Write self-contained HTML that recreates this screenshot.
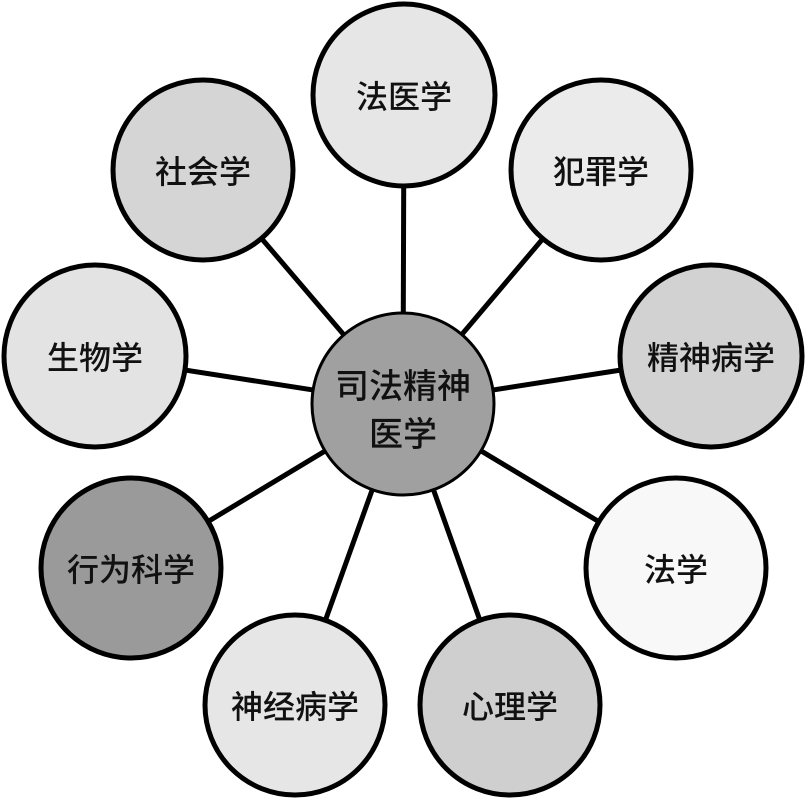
<!DOCTYPE html>
<html><head><meta charset="utf-8"><style>
html,body{margin:0;padding:0;background:#fff}
svg{display:block}
text{font-family:"Liberation Sans","Noto Sans CJK SC",sans-serif;font-size:32px;font-weight:500;fill:#111;text-anchor:middle;dominant-baseline:central}
</style></head><body>
<svg width="806" height="800" viewBox="0 0 806 800">
<g stroke="#000" stroke-width="5">
<line x1="403" y1="404" x2="404" y2="95"/>
<line x1="403" y1="404" x2="601" y2="170"/>
<line x1="403" y1="404" x2="711" y2="356"/>
<line x1="403" y1="404" x2="676" y2="568"/>
<line x1="403" y1="404" x2="510" y2="705"/>
<line x1="403" y1="404" x2="295" y2="705"/>
<line x1="403" y1="404" x2="131" y2="568"/>
<line x1="403" y1="404" x2="95" y2="356"/>
<line x1="403" y1="404" x2="203" y2="170"/>
</g>
<g stroke="#000" stroke-width="5">
<circle cx="404" cy="95" r="91" fill="#e6e6e6"/>
<circle cx="601" cy="170" r="90" fill="#ebebeb"/>
<circle cx="711" cy="356" r="91" fill="#d2d2d2"/>
<circle cx="676" cy="568" r="90" fill="#f8f8f8"/>
<circle cx="510" cy="705" r="90" fill="#cfcfcf"/>
<circle cx="295" cy="705" r="90" fill="#e6e6e6"/>
<circle cx="131" cy="568" r="90" fill="#9a9a9a"/>
<circle cx="95" cy="356" r="91" fill="#e3e3e3"/>
<circle cx="203" cy="170" r="90" fill="#d5d5d5"/>
<circle cx="403" cy="404" r="91" fill="#a0a0a0" stroke-width="3"/>
</g>
<text x="404" y="97">法医学</text>
<text x="601" y="172">犯罪学</text>
<text x="711" y="358">精神病学</text>
<text x="676" y="570">法学</text>
<text x="510" y="707">心理学</text>
<text x="295" y="707">神经病学</text>
<text x="131" y="570">行为科学</text>
<text x="95" y="358">生物学</text>
<text x="203" y="172">社会学</text>
<text x="403" y="387" style="font-size:34px">司法精神</text>
<text x="403" y="435" style="font-size:34px">医学</text>
</svg>
</body></html>
